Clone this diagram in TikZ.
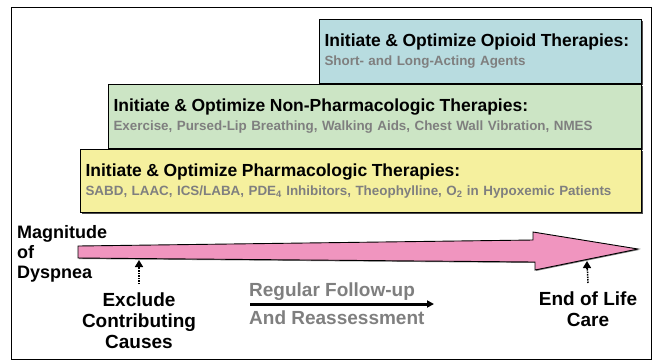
\documentclass[tikz,border=0pt]{standalone}
\usepackage{fontspec}
\setmainfont{Liberation Sans}
\usepackage{xcolor}
\usetikzlibrary{positioning}
\usetikzlibrary{arrows.meta}
\usetikzlibrary{shadows}

\definecolor{opioidblue}{HTML}{B8DCE0}
\definecolor{nonpharmgreen}{HTML}{CCE5C5}
\definecolor{pharmyellow}{HTML}{F5F09E}
\definecolor{dyspneapink}{HTML}{F095BF}
\definecolor{subgray}{HTML}{7F7F7F}

\begin{document}
\begin{tikzpicture}[
  x=1pt, y=-1pt,
  box/.style={draw, line width=0.9pt, anchor=north east, inner xsep=5pt, inner ysep=0pt, align=left, minimum height=64pt, text=subgray, font=\fontsize{13.4}{19}\selectfont\bfseries, drop shadow={shadow xshift=1.5pt, shadow yshift=-1.5pt, fill=black!70, opacity=1}},
  tag/.style={align=center, inner sep=0pt, font=\fontsize{19}{21}\selectfont\bfseries},
  arrow/.style={-{Triangle[length=7pt, width=7pt]}, line width=3pt},
  dotline/.style={line width=1.5pt, densely dotted, shorten >=5pt},
  dottip/.style={-{Triangle[length=7pt, width=8pt]}, line width=1.5pt, solid}
]
\useasboundingbox (0,0) rectangle (655,360);
\draw[line width=0.8pt] (11,7) rectangle (651,359);

% the three therapy steps
\node[box, fill=opioidblue, text width=312pt] (opioid) at (642,19) {\textcolor{black}{\fontsize{17.5}{17}\selectfont Initiate \& Optimize Opioid Therapies:}\\Short- and Long-Acting Agents};
\node[box, fill=nonpharmgreen, text width=523pt] (nonpharm) at (opioid.south east) {\textcolor{black}{\fontsize{17.5}{17}\selectfont Initiate \& Optimize Non-Pharmacologic Therapies:}\\Exercise, Pursed-Lip Breathing, Walking Aids, Chest Wall Vibration, NMES};
\node[box, fill=pharmyellow, text width=551pt, minimum height=63pt] (pharm) at (nonpharm.south east) {\textcolor{black}{\fontsize{17.5}{17}\selectfont Initiate \& Optimize Pharmacologic Therapies:}\\SABD, LAAC, ICS/LABA, PDE\textsubscript{4} Inhibitors, Theophylline, O\textsubscript{2} in Hypoxemic Patients};

% magnitude arrow
\draw[fill=dyspneapink, line width=0.9pt, drop shadow={shadow xshift=1pt, shadow yshift=-1pt, fill=black!50, opacity=1}]
  (78,246) -- (533,240) -- (533,232) -- (638,249) -- (535,270) -- (535,262) -- (78,258) -- cycle;
\coordinate (excTip) at (139,260);
\coordinate (eolTip) at (587,261);

\node[tag, align=left, anchor=north west, font=\fontsize{18}{20}\selectfont\bfseries] (magnitude) at (17,225) {Magnitude\\of\\Dyspnea};
\node[tag, anchor=north] (exclude) at (139,293) {Exclude\\Contributing\\Causes};
\node[tag, anchor=north] (endlife) at (588,292) {End of Life\\Care};

\draw[dotline] ([yshift=9pt]exclude.north) -- (excTip);
\draw[dottip] ([yshift=-8pt]excTip) -- (excTip);
\draw[dotline] ([yshift=9pt]endlife.north) -- (eolTip);
\draw[dottip] ([yshift=-8pt]eolTip) -- (eolTip);

% follow-up
\node[tag, text=subgray, anchor=base west] (followup) at (249,296.5) {Regular Follow-up};
\node[tag, text=subgray, anchor=base west] (reassess) at (249,324.5) {And Reassessment};
\coordinate (fuStart) at (250,304);
\coordinate (fuEnd) at (434,304);
\draw[arrow] (fuStart) -- (fuEnd);

\end{tikzpicture}
\end{document}
